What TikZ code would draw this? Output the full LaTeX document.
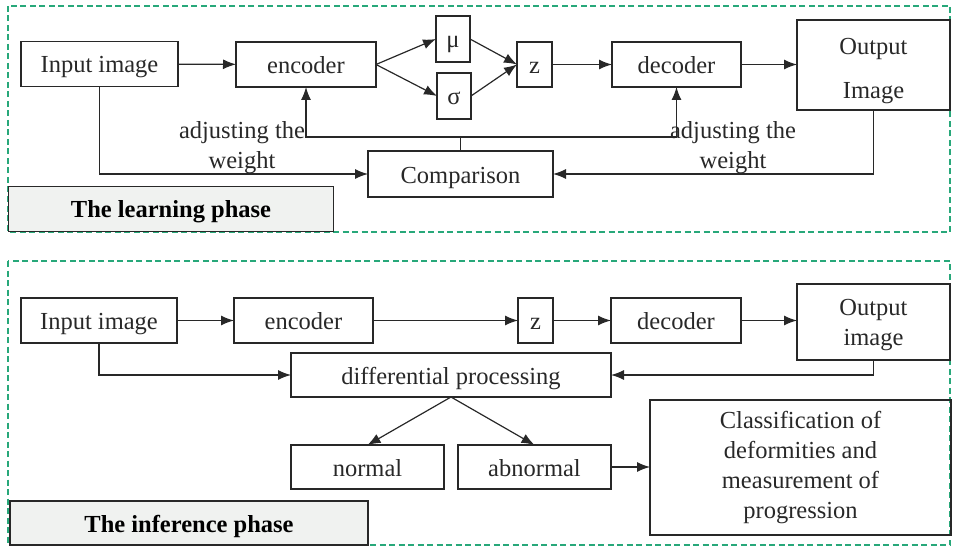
\documentclass[tikz,border=0pt]{standalone}
\usepackage{xcolor}
\usepackage{fontspec}
\setmainfont{Liberation Serif}
\usepackage{tikz}
\usetikzlibrary{shapes.geometric, arrows.meta, positioning}

\definecolor{dashgreen}{RGB}{40,168,122}
\definecolor{labelgray}{RGB}{240,242,240}
\definecolor{ink}{RGB}{40,40,40}

\begin{document}
\begin{tikzpicture}[x=1pt, y=-1pt, font=\fontsize{24.5}{30}\selectfont]
        \tikzstyle{block} = [rectangle, draw=ink, line width=1.2pt, text=ink, inner sep=0pt, outer sep=0pt, text centered, minimum height=45pt]
        \tikzstyle{onerow} = [text height=18pt, text depth=0pt]
        \tikzstyle{line} = [draw=ink, -{Latex[length=13pt, width=10pt]}, line width=1.2pt]
        \tikzstyle{phase} = [draw=dashgreen, line width=1.3pt, dash pattern=on 6pt off 3.5pt]
        \tikzstyle{phaselabel} = [rectangle, draw=ink, line width=1.2pt, fill=labelgray, inner sep=0pt, minimum height=45pt, text height=18pt, text depth=0pt, font=\fontsize{24.5}{30}\selectfont\bfseries]

        \useasboundingbox (0,0) rectangle (955,548);

        % learning phase
        \draw [phase] (8,6) rectangle (950,232);
        \node [phaselabel, minimum width=325pt] (learnlabel) at (171,209) {The learning phase};

        \node [block, onerow, minimum width=157pt] (input) at (99.5,64) {Input image};
        \node [block, onerow, minimum width=140pt] (encoder) at (306,64.5) {encoder};
        \node [block, onerow, minimum width=34pt, minimum height=46pt] (mu) at (453,39) {μ};
        \node [block, onerow, minimum width=34pt, minimum height=46pt] (sigma) at (454,96) {σ};
        \node [block, onerow, minimum width=35pt] (z) at (534.5,64.5) {z};
        \node [block, onerow, minimum width=129pt] (decoder) at (676.5,64.5) {decoder};
        \node [block, minimum width=153pt, minimum height=90pt, align=center, font=\fontsize{24.5}{44}\selectfont] (output) at (873.5,65) {\rule{0pt}{28pt}Output\\Image\vphantom{g}};
        \node [block, onerow, minimum width=185pt, minimum height=46pt] (comp) at (460.5,174) {Comparison};

        \path [line] (input) -- (encoder);
        \path [line] (encoder.east) -- (mu.west);
        \path [line] (encoder.east) -- (sigma.west);
        \path [line] (mu.east) -- (z.west);
        \path [line] (sigma.east) -- (z.west);
        \path [line] (z) -- (decoder);
        \path [line] (decoder) -- (output.west |- decoder);
        \path [line] (input.south) |- (comp.west);
        \path [line] (output.south) |- (comp.east);
        \draw [draw=ink, line width=1.2pt] (comp.north) -- ++(0,-14) coordinate (fb);
        \path [line] (fb) -| (encoder.south);
        \path [line] (fb) -| (decoder.south);
        \node [align=center, text=ink] (adjleft) at (242,148) {adjusting the\\weight};
        \node [align=center, text=ink] (adjright) at (733,148) {adjusting the\\weight};

        % inference phase
        \draw [phase] (8,261) rectangle (950,545);
        \node [phaselabel, minimum width=358pt, minimum height=44pt] (inflabel) at (189,523) {The inference phase};

        \node [block, onerow, minimum width=156pt] (input2) at (99,320.5) {Input image};
        \node [block, onerow, minimum width=139pt] (encoder2) at (303.5,320.5) {encoder};
        \node [block, onerow, minimum width=35pt] (z2) at (535.5,320.5) {z};
        \node [block, onerow, minimum width=130pt] (decoder2) at (676,320.5) {decoder};
        \node [block, minimum width=153pt, minimum height=76pt, align=center] (output2) at (873.5,322) {\rule{0pt}{22pt}Output\\image};
        \node [block, onerow, minimum width=320pt, minimum height=44pt] (diff) at (451,375) {differential processing};
        \node [block, onerow, minimum width=153pt, minimum height=44pt] (normal) at (367.5,467) {normal};
        \node [block, onerow, minimum width=153pt, minimum height=44pt] (abnormal) at (534.5,467) {abnormal};
        \node [block, minimum width=301pt, minimum height=135pt, align=center] (classif) at (800.5,467.5) {Classification of\\deformities and\\measurement of\\progression};

        \path [line] (input2) -- (encoder2);
        \path [line] (encoder2) -- (z2);
        \path [line] (z2) -- (decoder2);
        \path [line] (decoder2) -- (output2.west |- decoder2);
        \path [line] (input2.south) |- (diff.west);
        \path [line] (output2.south) |- (diff.east);
        \path [line] (diff.south) -- (normal.north);
        \path [line] (diff.south) -- (abnormal.north);
        \path [line] (abnormal) -- (classif.west |- abnormal);
    \end{tikzpicture}
\end{document}
